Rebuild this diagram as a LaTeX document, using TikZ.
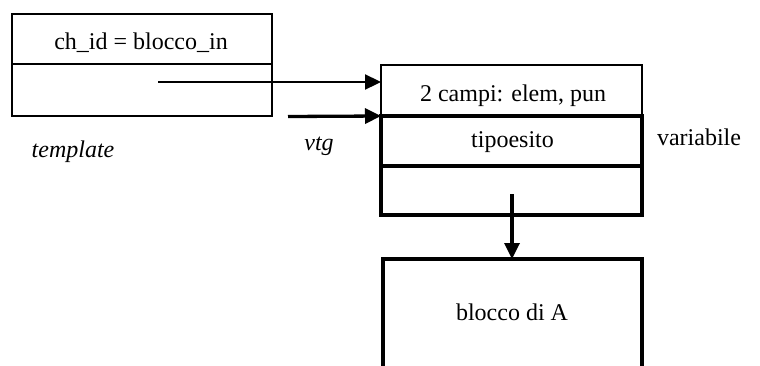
\documentclass[tikz,border=0pt]{standalone}
\usepackage{fontspec}
\setmainfont{Liberation Serif}
\usetikzlibrary{arrows.meta}
\tikzset{
  thinline/.style={draw, line width=1.6pt},
  thickline/.style={draw, line width=3.3pt},
  cell/.style={rectangle, inner sep=0pt, outer sep=0pt},
  lbl/.style={anchor=base, inner sep=0pt, font=\fontsize{24}{28}\selectfont},
  itlbl/.style={lbl, font=\fontsize{24}{28}\selectfont\itshape},
  tipA/.style={-{Triangle[length=16pt,width=15pt]}},
}
\begin{document}
\begin{tikzpicture}[x=1pt,y=-1pt]
\useasboundingbox (0,0) rectangle (760,365);
% template record
\node[cell, thinline, minimum width=260pt, minimum height=50pt] (t1) at (142,39) {};
\node[cell, thinline, minimum width=260pt, minimum height=52pt] (t2) at (142,90) {};
\node[lbl] (t1txt) at (141,49) {ch\_id = blocco\_in};
\node[itlbl] (tmpl) at (73,157) {template};
% variable record
\node[cell, thinline, minimum width=261pt, minimum height=51pt] (v1) at (511.5,90.5) {};
\node[cell, thickline, minimum width=261pt, minimum height=50pt] (v2) at (511.5,141) {};
\node[cell, thickline, minimum width=261pt, minimum height=49pt] (v3) at (511.5,190.5) {};
\node[lbl] (v1txt) at (513,101.5) {2 campi: elem, pun};
\node[lbl] (v2txt) at (512.5,147.5) {tipoesito};
\node[lbl] (var) at (699,145.5) {variabile};
\node[itlbl] (vtg) at (319,150) {vtg};
% block of A, open at the bottom
\draw[line width=3.3pt] (383,366) |- (642,259) -- (642,366);
\coordinate (blk) at (512,259);
\node[lbl] (blktxt) at (512,320) {blocco di A};
% connectors
\coordinate (s1) at (158,82);
\coordinate (s2) at (288,116.5);
\coordinate (s3) at (512,194);
\draw[tipA, line width=2.3pt] (s1) -- (s1 -| v1.west);
\draw[tipA, line width=3.3pt] (s2) -- (v2.north west);
\draw[tipA, line width=3.3pt] (s3) -- (blk);
\end{tikzpicture}
\end{document}
